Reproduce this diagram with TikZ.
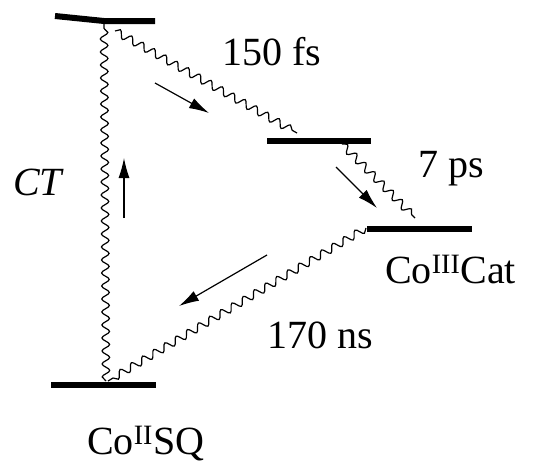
\documentclass[tikz,border=0pt]{standalone}
\usepackage{fontspec}
\setmainfont{Liberation Serif}
\usetikzlibrary{positioning,arrows.meta,decorations.pathmorphing}

\begin{document}
\begin{tikzpicture}[
    x=1pt, y=-1pt,
    >={Latex[length=20pt,width=11pt]},
    every node/.style={font=\fontsize{40}{48}\selectfont, inner sep=0pt, anchor=base west},
    level/.style={line width=6pt},
    wave/.style={decorate, decoration={snake, amplitude=3.8pt, segment length=13pt}, line width=1.2pt},
    flow/.style={->, line width=1.2pt}
]
\useasboundingbox (0,0) rectangle (547,463);
% energy levels
\draw[level] (55,16) -- (104,21) -- (155,21);
\draw[level] (267,141) -- (371,141);
\draw[level] (367,229) -- (472,229);
\draw[level] (51,385) -- (156,385);
% ends of the wavy transitions
\coordinate (ctA) at (106,381);
\coordinate (ctB) at (104,24);
\coordinate (fsA) at (115,31);
\coordinate (fsB) at (297,133);
\coordinate (psA) at (342,144);
\coordinate (psB) at (415,218);
\coordinate (nsA) at (366,228);
\coordinate (nsB) at (108,381);
\draw[wave] (ctA) -- (ctB);
\draw[wave] (fsA) -- (fsB);
\draw[wave] (psA) -- (psB);
\draw[wave] (nsA) -- (nsB);
% direction arrows
\coordinate (upA) at (124,218);
\coordinate (upB) at (124,158);
\coordinate (fsC) at (155,83);
\coordinate (fsD) at (209,113);
\coordinate (psC) at (336,167);
\coordinate (psD) at (377,208);
\coordinate (nsC) at (267,255);
\coordinate (nsD) at (179,306);
\draw[flow] (upA) -- (upB);
\draw[flow] (fsC) -- (fsD);
\draw[flow] (psC) -- (psD);
\draw[flow] (nsC) -- (nsD);
% labels
\node (fs) at (222,65) {150 fs};
\node (ps) at (418,177) {7 ps};
\node (ct) at (13,195) {\itshape CT};
\node (cat) at (385,283) {Co\textsuperscript{III}Cat};
\node (ns) at (267,348) {170 ns};
\node (sq) at (87,454) {Co\textsuperscript{II}SQ};
\end{tikzpicture}
\end{document}
